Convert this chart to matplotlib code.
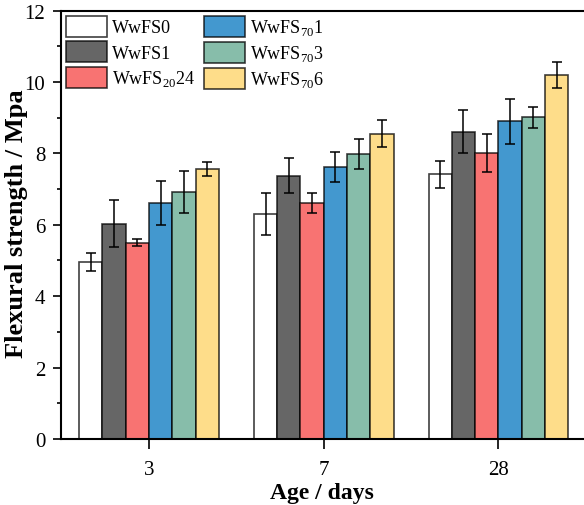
import numpy as np
import matplotlib.pyplot as plt

plt.rcParams["font.family"] = ["Liberation Serif", "DejaVu Serif"]
plt.rcParams["mathtext.fontset"] = "custom"
plt.rcParams["mathtext.rm"] = "Liberation Serif"

# data
ages = ["3", "7", "28"]
labels = ["WwFS0", "WwFS1", "WwFS$_{20}$24", "WwFS$_{70}$1", "WwFS$_{70}$3", "WwFS$_{70}$6"]
colors = ["#FFFFFF", "#666666", "#F87372", "#4398CF", "#87BDAA", "#FEDD8A"]

wwfs0 = [4.96, 6.30, 7.41]
wwfs1 = [6.03, 7.38, 8.61]
wwfs20_24 = [5.50, 6.60, 8.02]
wwfs70_1 = [6.60, 7.62, 8.90]
wwfs70_3 = [6.92, 7.99, 9.01]
wwfs70_6 = [7.57, 8.55, 10.20]

err0 = [0.25, 0.60, 0.39]
err1 = [0.65, 0.48, 0.60]
err20_24 = [0.10, 0.28, 0.53]
err70_1 = [0.62, 0.42, 0.63]
err70_3 = [0.58, 0.42, 0.29]
err70_6 = [0.20, 0.38, 0.36]

means = [wwfs0, wwfs1, wwfs20_24, wwfs70_1, wwfs70_3, wwfs70_6]
errs = [err0, err1, err20_24, err70_1, err70_3, err70_6]

fig = plt.figure(figsize=(5.84, 5.06), dpi=100)
ax = fig.add_axes([0.1036, 0.1304, 0.8964, 0.8468])

x = np.arange(len(ages))
n = len(labels)
width = 0.8 / n

for i in range(n):
    pos = x - 0.4 + width * (i + 0.5)
    ax.bar(pos, means[i], width, color=colors[i], edgecolor=(0, 0, 0, 0.75),
           linewidth=1.2, label=labels[i], zorder=2)
    ax.errorbar(pos, means[i], yerr=errs[i], fmt="none", ecolor="black",
                elinewidth=1.1, capsize=3.6, capthick=1.1, zorder=3)

ax.set_xlim(-0.507, 2.49)
ax.set_ylim(0, 12)
ax.set_xticks(x)
ax.set_xticklabels(ages)
ax.set_yticks(np.arange(0, 13, 2))
ax.set_yticks(np.arange(1, 12, 2), minor=True)

ax.spines["right"].set_visible(False)
for s in ["left", "bottom", "top"]:
    ax.spines[s].set_linewidth(1.5)

ax.tick_params(axis="both", which="major", direction="out", length=6, width=1.2,
               labelsize=15, pad=5)
ax.tick_params(axis="y", which="minor", direction="out", length=3, width=1.2)
ax.tick_params(axis="x", which="major", length=7, pad=8)

ax.set_xlabel("Age / days", fontsize=17, fontweight="bold", labelpad=2)
ax.set_ylabel("Flexural strength / Mpa", fontsize=19, fontweight="bold")
ax.yaxis.set_label_coords(-0.063, 0.505)

ax.legend(loc="upper left", ncol=2, frameon=False, fontsize=13,
          handlelength=2.25, handleheight=1.4, handletextpad=0.3,
          labelspacing=0.25, columnspacing=0.5, borderaxespad=0.2, borderpad=0.1)

plt.savefig("out.png", dpi=100)
